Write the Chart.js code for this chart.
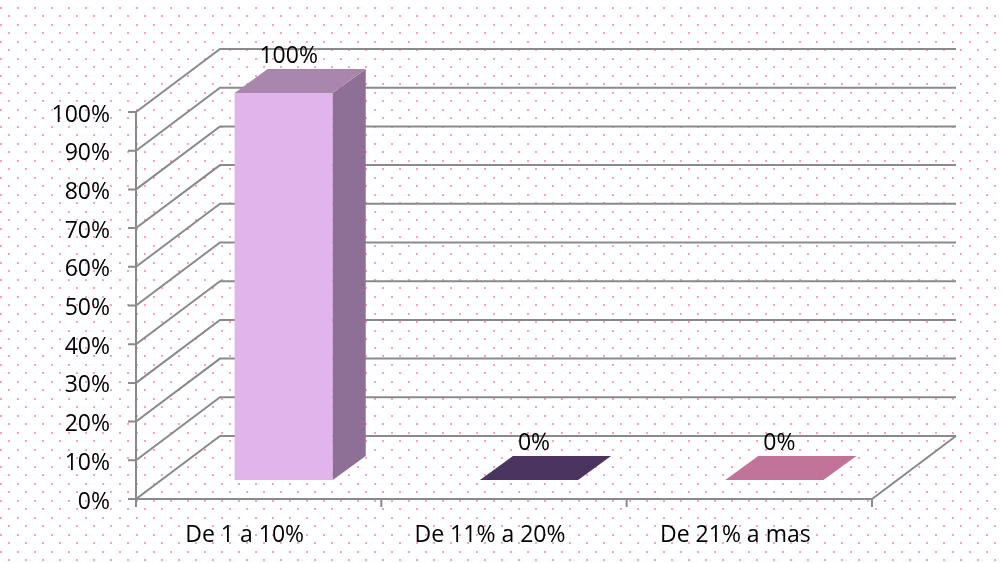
<!DOCTYPE HTML>
<html>
<head>
  <title>De 1 a 10%</title>
  <meta charset="utf-8" />
  <script src="https://cdn.jsdelivr.net/npm/chart.js@4.4.1/dist/chart.umd.min.js"></script>
  <style type="text/css">
    body { margin: 0; padding: 0; background: #fff; }
  </style>
</head>
<body>
<canvas id="bar-chart" width="1001" height="563"></canvas>

<script>
  // data
  var categories = ["De 1 a 10%", "De 11% a 20%", "De 21% a mas"];
  var percents = [100, 0, 0];
  var yMin = 0, yMax = 100, yStep = 10;

  // bar colours: front, top, side
  var frontColors = ["#e1b5eb", "#4b3560", "#c17399"];
  var topColors = ["#a987ad", "#4b3560", "#c17399"];
  var sideColors = ["#8e7097", "#3a2a4b", "#9c5a7a"];

  var FONT = { family: "'Open Sans', sans-serif", size: 23 };
  var wall = { dx: 84, dy: -63 };    // depth of the 3d box
  var barOff = { dx: 25, dy: -19 };  // where the bars stand inside the box
  var barDepth = { dx: 33, dy: -24 };

  function dotPattern(ctx) {
    var c = document.createElement("canvas");
    c.width = 17; c.height = 17;
    var p = c.getContext("2d");
    p.fillStyle = "#ff9fd0";
    p.fillRect(8, 15, 2, 2);
    p.fillRect(0, 7, 2, 2);
    return ctx.createPattern(c, "repeat");
  }

  var box3d = {
    id: "box3d",
    beforeDraw: function(chart) {
      var ctx = chart.ctx;
      ctx.save();
      ctx.fillStyle = "#fff";
      ctx.fillRect(0, 0, chart.width, chart.height);
      ctx.fillStyle = dotPattern(ctx);
      ctx.fillRect(0, 0, chart.width, chart.height);
      ctx.restore();
    },
    beforeDatasetsDraw: function(chart) {
      var ctx = chart.ctx, a = chart.chartArea;
      var xs = chart.scales.x, ys = chart.scales.y;
      ctx.save();
      ctx.strokeStyle = "#8a8a8a";
      ctx.lineWidth = 2;
      ctx.beginPath();
      // walls + gridlines
      ys.ticks.forEach(function(t) {
        var y = ys.getPixelForValue(t.value);
        ctx.moveTo(a.left - 8, y);
        ctx.lineTo(a.left, y);
        ctx.lineTo(a.left + wall.dx, y + wall.dy);
        ctx.lineTo(a.right + wall.dx, y + wall.dy);
      });
      // front axis
      ctx.moveTo(a.left, a.top);
      ctx.lineTo(a.left, a.bottom + 8);
      // floor
      ctx.moveTo(a.left, a.bottom);
      ctx.lineTo(a.right, a.bottom);
      ctx.lineTo(a.right + wall.dx, a.bottom + wall.dy);
      // category ticks
      var n = categories.length;
      for (var i = 0; i <= n; i++) {
        var x = xs.left + i * xs.width / n;
        ctx.moveTo(x, a.bottom);
        ctx.lineTo(x, a.bottom + 8);
      }
      ctx.stroke();

      // bars
      var meta = chart.getDatasetMeta(0);
      meta.data.forEach(function(bar, i) {
        var p = bar.getProps(["x", "y", "base", "width"], true);
        var l = p.x - p.width / 2 + barOff.dx, r = p.x + p.width / 2 + barOff.dx;
        var t = p.y + barOff.dy, b = p.base + barOff.dy;
        var dx = barDepth.dx, dy = barDepth.dy;
        if (b - t > 0.5) {
          ctx.fillStyle = frontColors[i];
          ctx.fillRect(l, t, r - l, b - t);
          ctx.fillStyle = sideColors[i];
          ctx.beginPath();
          ctx.moveTo(r, t); ctx.lineTo(r + dx, t + dy);
          ctx.lineTo(r + dx, b + dy); ctx.lineTo(r, b);
          ctx.closePath(); ctx.fill();
        }
        ctx.fillStyle = topColors[i];
        ctx.beginPath();
        ctx.moveTo(l, t); ctx.lineTo(l + dx, t + dy);
        ctx.lineTo(r + dx, t + dy); ctx.lineTo(r, t);
        ctx.closePath(); ctx.fill();

        // value label
        ctx.fillStyle = "#000";
        ctx.font = FONT.size + "px " + FONT.family;
        ctx.textAlign = "center";
        ctx.textBaseline = "middle";
        ctx.fillText(percents[i] + "%", (l + r) / 2 + 5, t - 37);
      });
      ctx.restore();
      return false;
    }
  };

  new Chart(document.getElementById("bar-chart"), {
    type: "bar",
    data: {
      labels: categories,
      datasets: [{
        data: percents,
        backgroundColor: frontColors,
        barPercentage: 0.4,
        categoryPercentage: 1.0
      }]
    },
    options: {
      responsive: false,
      animation: false,
      layout: { padding: { left: 0, right: 129, top: 112, bottom: 0 } },
      plugins: { legend: { display: false }, tooltip: { enabled: false } },
      scales: {
        x: {
          grid: { display: false, drawTicks: false },
          border: { display: false },
          ticks: { font: FONT, color: "#000", padding: 23, maxRotation: 0, labelOffset: -14 },
          afterFit: function(s) { s.height = 64; }
        },
        y: {
          min: yMin, max: yMax,
          grid: { display: false, drawTicks: false },
          border: { display: false },
          ticks: {
            stepSize: yStep, font: FONT, color: "#000", padding: 26, labelOffset: 3,
            callback: function(v) { return v + "%"; }
          },
          afterFit: function(s) { s.width = 136; }
        }
      }
    },
    plugins: [box3d]
  });
</script>
</body>
</html>
